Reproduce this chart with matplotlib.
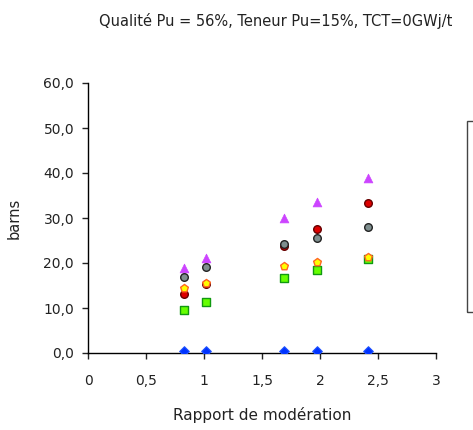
import matplotlib
matplotlib.use('Agg')
import matplotlib.pyplot as plt
from matplotlib.patches import Rectangle
from matplotlib.ticker import FuncFormatter

# rapport de moderation
x = [0.83, 1.02, 1.69, 1.97, 2.41]

bleu = [0.5, 0.5, 0.5, 0.5, 0.5]
vert = [9.6, 11.3, 16.7, 18.4, 20.9]
violet = [18.9, 21.1, 30.0, 33.5, 38.9]
gris = [17.0, 19.1, 24.2, 25.5, 28.0]
rouge = [13.1, 15.4, 23.8, 27.5, 33.3]
orange = [14.4, 15.6, 19.3, 20.2, 21.3]

xticks = [0, 0.5, 1, 1.5, 2, 2.5, 3]
yticks = [0, 10, 20, 30, 40, 50, 60]

fig = plt.figure(figsize=(4.73, 4.30), dpi=100)
ax = fig.add_axes([88/473, (430-353)/430, (436-88)/473, (353-83)/430])

ax.scatter(x, bleu, marker='D', s=24, c='#0033FF', edgecolors='#2255FF', linewidths=0.8, zorder=3)
ax.scatter(x, vert, marker='s', s=30, c='#66FF00', edgecolors='#119911', linewidths=1, zorder=3)
ax.scatter(x, violet, marker='^', s=40, c='#CC44FF', edgecolors='#CC44FF', linewidths=0.5, zorder=3)
ax.scatter(x, rouge, marker='o', s=30, c='#DD0000', edgecolors='#660000', linewidths=1, zorder=3)
ax.scatter(x, gris, marker='o', s=30, c='#7F8F8F', edgecolors='#222222', linewidths=1, zorder=3)
ax.scatter(x, orange, marker='p', s=34, c='#FFFF00', edgecolors='#FF6622', linewidths=1, zorder=3)

ax.set_xlim(0, 3)
ax.set_ylim(0, 60)
ax.set_xticks(xticks)
ax.set_yticks(yticks)
ax.xaxis.set_major_formatter(FuncFormatter(lambda v, p: ('%g' % v).replace('.', ',')))
ax.yaxis.set_major_formatter(FuncFormatter(lambda v, p: ('%.1f' % v).replace('.', ',')))
ax.tick_params(direction='out', length=4, width=1, labelsize=10, colors='#222222')
ax.tick_params(axis='x', pad=11)
ax.tick_params(axis='y', pad=6)
for s in ['top', 'right']:
    ax.spines[s].set_visible(False)
for s in ['left', 'bottom']:
    ax.spines[s].set_linewidth(1)
ax.spines['left'].set_clip_on(False)

ax.set_xlabel('Rapport de modération', fontsize=11, color='#222222')
ax.set_ylabel('barns', fontsize=10.5, color='#222222')
ax.xaxis.set_label_coords(0.5, -0.2)
ax.yaxis.set_label_coords(-0.19, 0.5)

fig.text(276/473, 1 - 21/430, 'Qualité Pu = 56%, Teneur Pu=15%, TCT=0GWj/t',
         ha='center', va='center', fontsize=10.5, color='#222222')

# cadre de la legende (coupe a droite)
fig.patches.append(Rectangle((467/473, (430-312)/430), 0.1, (312-121)/430,
                             transform=fig.transFigure, fill=False,
                             edgecolor='#444444', linewidth=1))

fig.savefig('out.png', dpi=100)
